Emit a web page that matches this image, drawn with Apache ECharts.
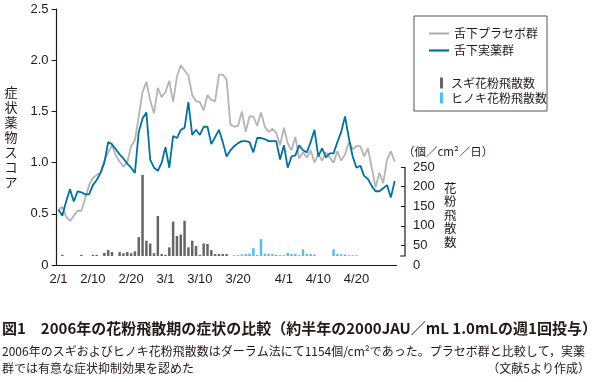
<!DOCTYPE html>
<html><head><meta charset="utf-8">
<script src="https://cdn.jsdelivr.net/npm/echarts@6/dist/echarts.min.js"></script>
<style>html,body{margin:0;padding:0;background:#fff}#c{width:595px;height:382px}</style>
</head><body><div id="c"></div>
<script>
const categories = ['2/1','2/2','2/3','2/4','2/5','2/6','2/7','2/8','2/9','2/10','2/11','2/12','2/13','2/14','2/15','2/16','2/17','2/18','2/19','2/20','2/21','2/22','2/23','2/24','2/25','2/26','2/27','2/28',
'3/1','3/2','3/3','3/4','3/5','3/6','3/7','3/8','3/9','3/10','3/11','3/12','3/13','3/14','3/15','3/16','3/17','3/18','3/19','3/20','3/21','3/22','3/23','3/24','3/25','3/26','3/27','3/28','3/29','3/30','3/31',
'4/1','4/2','4/3','4/4','4/5','4/6','4/7','4/8','4/9','4/10','4/11','4/12','4/13','4/14','4/15','4/16','4/17','4/18','4/19','4/20','4/21','4/22','4/23','4/24','4/25','4/26','4/27','4/28','4/29','4/30'];
const xTickLabels = ['2/1','2/10','2/20','3/1','3/10','3/20','4/1','4/10','4/20'];
const scoreTicks = [0, 0.5, 1.0, 1.5, 2.0, 2.5];
const pollenTicks = [0, 50, 100, 150, 200, 250];

const placebo = [0.54,0.57,0.47,0.43,0.48,0.53,0.53,0.65,0.78,0.85,0.88,0.90,1.02,1.10,1.17,1.07,1.01,0.96,1.00,1.16,
1.22,1.45,1.69,1.79,1.61,1.48,1.73,1.64,1.69,1.80,1.59,1.84,1.95,1.90,1.85,1.66,1.60,1.59,1.51,1.66,
1.61,1.60,1.86,1.86,1.81,1.37,1.35,1.36,1.50,1.30,1.45,1.45,1.36,1.49,1.35,1.30,1.33,1.29,1.17,1.34,
1.19,1.12,1.25,1.04,1.10,1.05,1.12,1.00,1.08,1.02,1.10,1.05,1.00,1.11,1.02,1.08,1.20,1.13,1.16,1.16,
1.06,1.14,0.95,0.76,0.90,0.80,1.03,1.11,1.01];
const active = [0.54,0.48,0.62,0.74,0.62,0.72,0.71,0.69,0.69,0.78,0.83,0.90,1.00,1.20,1.18,1.13,1.08,1.04,0.99,0.95,
0.90,1.30,1.43,1.49,1.03,0.95,0.92,1.00,1.15,0.95,1.26,1.24,1.32,1.34,1.59,1.27,1.32,1.27,1.35,1.35,
1.18,1.25,1.32,1.20,1.06,1.12,1.16,1.19,1.21,1.21,1.20,1.10,1.24,1.24,1.23,1.21,1.21,1.21,1.03,1.17,
0.95,1.06,1.07,1.17,1.12,1.10,1.20,1.32,1.06,1.14,1.05,1.09,1.09,1.20,1.30,1.45,1.24,1.06,0.95,0.97,
0.87,0.84,0.77,0.72,0.72,0.75,0.78,0.66,0.82];
const sugi = [null,3,null,null,null,null,3,null,null,3,3,null,8,15,10,null,10,7,10,7,
12,48,207,39,32,7,102,5,3,22,88,51,55,90,22,39,26,3,32,31,
15,5,5,5,5,null,null,null,null,null,null,null,null,null,null,null,null,null,null,null,
null,null,null,null,null,null,null,null,null,null,null,null,null,null,null,null,null,null,null,null,
null,null,null,null,null,null,null,null,null];
const hinoki = [null,null,null,null,null,null,null,null,null,null,null,null,null,null,null,null,null,null,null,null,
null,null,null,null,null,null,null,null,null,null,null,null,null,null,null,null,null,null,null,null,
null,null,null,null,null,null,2,2,4,5,6,20,3,43,6,6,5,3,2,2,
8,5,5,2,17,5,5,4,null,null,null,null,17,5,4,4,2,2,2,null,
null,null,null,null,null,null,null,null,null];

const FONT = 'Helvetica, Arial, "Liberation Sans", "Noto Sans CJK JP", sans-serif';
const JP = '"Noto Sans CJK JP", "Noto Sans CJK SC", sans-serif';
const INK = '#231815';
const GRAY_LINE = '#b4b4b4', BLUE_LINE = '#00729c', GRAY_BAR = '#666666', BLUE_BAR = '#4dc2ee';
const gridL = 56.6, gridR = 198.4;

const chart = echarts.init(document.getElementById('c'), null, {renderer: 'canvas'});
chart.setOption({
  animation: false,
  backgroundColor: '#fff',
  grid: [
    {left: gridL, right: gridR, top: 9, bottom: 117},
    {left: gridL, right: gridR, top: 158, bottom: 126},
    {left: gridL, right: gridR, top: 167, bottom: 117}
  ],
  xAxis: [
    {gridIndex: 0, type: 'category', data: categories, boundaryGap: true,
     axisLine: {lineStyle: {color: INK, width: 1.2}},
     axisTick: {interval: 0, length: 5, lineStyle: {color: INK, width: 1}},
     axisLabel: {interval: (i, v) => xTickLabels.includes(v), color: INK, fontSize: 13, fontFamily: FONT, margin: 8}},
    {gridIndex: 1, type: 'category', data: categories, boundaryGap: true, show: false},
    {gridIndex: 2, type: 'category', data: categories, boundaryGap: true, show: false}
  ],
  yAxis: [
    {gridIndex: 0, type: 'value', min: scoreTicks[0], max: scoreTicks[scoreTicks.length - 1], interval: 0.5,
     axisLine: {show: true, lineStyle: {color: INK, width: 1.2}},
     axisTick: {show: true, length: 5, lineStyle: {color: INK}},
     splitLine: {show: false},
     axisLabel: {formatter: v => v === 0 ? '0' : v.toFixed(1), color: INK, fontSize: 13, fontFamily: FONT, margin: 8},
     name: '症\n状\n薬\n物\nス\nコ\nア', nameLocation: 'middle', nameRotate: 0, nameGap: 39,
     nameTextStyle: {color: INK, fontSize: 13, fontFamily: JP, lineHeight: 15, padding: [16, 0, 0, 0]}},
    {gridIndex: 1, type: 'value', min: 0, max: 250, show: false},
    {gridIndex: 2, type: 'value', min: pollenTicks[0], max: pollenTicks[pollenTicks.length - 1], interval: 50,
     position: 'right', offset: 8.4,
     axisLine: {show: false},
     axisTick: {show: true, inside: true, length: 4, customValues: pollenTicks.slice(1), lineStyle: {color: INK}},
     splitLine: {show: false},
     axisLabel: {color: INK, fontSize: 13, fontFamily: FONT, margin: 8}}
  ],
  legend: [
    {data: ['舌下プラセボ群', '舌下実薬群'], orient: 'vertical', left: 424, top: 21,
     icon: 'rect', itemWidth: 20, itemHeight: 2.2, itemGap: 2,
     textStyle: {color: INK, fontSize: 12, fontFamily: JP, lineHeight: 15}},
    {data: ['スギ花粉飛散数', 'ヒノキ花粉飛散数'], orient: 'vertical', left: 435, top: 71,
     itemWidth: 3, itemHeight: 11, itemGap: 1, icon: 'rect',
     textStyle: {color: INK, fontSize: 12, fontFamily: JP, lineHeight: 14, padding: [0, 0, 0, 3]}}
  ],
  graphic: [
    {type: 'rect', shape: {x: 414, y: 16, width: 133, height: 95}, style: {fill: 'none', stroke: '#555', lineWidth: 1}},
    {type: 'polyline', shape: {points: [[405, 167], [405, 256], [400, 256]]}, style: {stroke: INK, lineWidth: 1.2, fill: null}},
    {type: 'text', left: 403, top: 146, style: {text: '（個／cm²／日）', font: '11.5px ' + JP, fill: INK}},
    {type: 'text', left: 444, top: 181, style: {text: '花\n粉\n飛\n散\n数', font: '12.5px ' + JP, lineHeight: 13.5, fill: INK}},
    {type: 'text', left: 2, top: 321, style: {text: '図1　2006年の花粉飛散期の症状の比較（約半年の2000JAU／mL 1.0mLの週1回投与）', font: 'bold 15px ' + JP, fill: INK}},
    {type: 'text', left: 2, top: 345, style: {text: '2006年のスギおよびヒノキ花粉飛散数はダーラム法にて1154個/cm²であった。プラセボ群と比較して，実薬', font: '12px ' + JP, fill: INK}},
    {type: 'text', left: 2, top: 362, style: {text: '群では有意な症状抑制効果を認めた', font: '12px ' + JP, fill: INK}},
    {type: 'text', right: 5, top: 362, style: {text: '（文献5より作成）', font: '12px ' + JP, fill: INK}}
  ],
  series: [
    {name: 'スギ花粉飛散数', type: 'bar', xAxisIndex: 1, yAxisIndex: 1, data: sugi, barWidth: 2.5, barGap: '-100%',
     itemStyle: {color: GRAY_BAR}},
    {name: 'ヒノキ花粉飛散数', type: 'bar', xAxisIndex: 1, yAxisIndex: 1, data: hinoki, barWidth: 2.5, barGap: '-100%',
     itemStyle: {color: BLUE_BAR}},
    {name: '舌下プラセボ群', type: 'line', xAxisIndex: 0, yAxisIndex: 0, data: placebo, symbol: 'none',
     lineStyle: {color: GRAY_LINE, width: 1.8}, itemStyle: {color: GRAY_LINE}, z: 3},
    {name: '舌下実薬群', type: 'line', xAxisIndex: 0, yAxisIndex: 0, data: active, symbol: 'none',
     lineStyle: {color: BLUE_LINE, width: 1.8}, itemStyle: {color: BLUE_LINE}, z: 4}
  ]
});
</script></body></html>
